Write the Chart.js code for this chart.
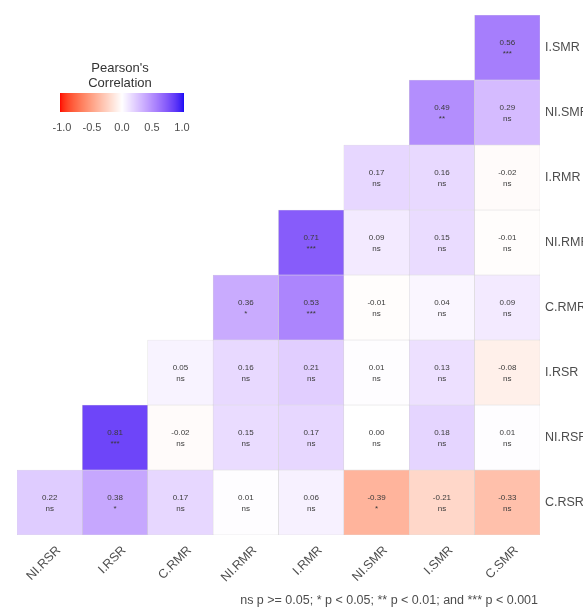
<!DOCTYPE html>
<html>
<head>
<meta charset="utf-8">
<script src="https://cdn.jsdelivr.net/npm/chart.js@4.4.0/dist/chart.umd.min.js"></script>
<style>
  html, body { margin: 0; padding: 0; background: #fff; }
  #corrChart { display: block; }
</style>
</head>
<body>
<canvas id="corrChart" width="583" height="611"></canvas>
<script>
// kolom (sumbu x) dan baris (sumbu y, dari atas ke bawah)
const xLabels = ["NI.RSR", "I.RSR", "C.RMR", "NI.RMR", "I.RMR", "NI.SMR", "I.SMR", "C.SMR"];
const yLabels = ["I.SMR", "NI.SMR", "I.RMR", "NI.RMR", "C.RMR", "I.RSR", "NI.RSR", "C.RSR"];

// nilai korelasi per baris (null = sel kosong)
const rowISMR  = [null, null, null, null, null, null, null, 0.56];
const rowNISMR = [null, null, null, null, null, null, 0.49, 0.29];
const rowIRMR  = [null, null, null, null, null, 0.17, 0.16, -0.02];
const rowNIRMR = [null, null, null, null, 0.71, 0.09, 0.15, -0.01];
const rowCRMR  = [null, null, null, 0.36, 0.53, -0.01, 0.04, 0.09];
const rowIRSR  = [null, null, 0.05, 0.16, 0.21, 0.01, 0.13, -0.08];
const rowNIRSR = [null, 0.81, -0.02, 0.15, 0.17, 0.00, 0.18, 0.01];
const rowCRSR  = [0.22, 0.38, 0.17, 0.01, 0.06, -0.39, -0.21, -0.33];
const corrRows = [rowISMR, rowNISMR, rowIRMR, rowNIRMR, rowCRMR, rowIRSR, rowNIRSR, rowCRSR];

// tanda signifikansi per baris
const sigISMR  = [null, null, null, null, null, null, null, "***"];
const sigNISMR = [null, null, null, null, null, null, "**", "ns"];
const sigIRMR  = [null, null, null, null, null, "ns", "ns", "ns"];
const sigNIRMR = [null, null, null, null, "***", "ns", "ns", "ns"];
const sigCRMR  = [null, null, null, "*", "***", "ns", "ns", "ns"];
const sigIRSR  = [null, null, "ns", "ns", "ns", "ns", "ns", "ns"];
const sigNIRSR = [null, "***", "ns", "ns", "ns", "ns", "ns", "ns"];
const sigCRSR  = ["ns", "*", "ns", "ns", "ns", "*", "ns", "ns"];
const sigRows = [sigISMR, sigNISMR, sigIRMR, sigNIRMR, sigCRMR, sigIRSR, sigNIRSR, sigCRSR];

const legendTicks = [-1, -0.5, 0, 0.5, 1];
const legendTitle = ["Pearson's", "Correlation"];
const footnote = "ns p >= 0.05; * p < 0.05; ** p < 0.01; and *** p < 0.001";

const FONT = "'Liberation Sans', Arial, sans-serif";

// ---------------- warna: gradien merah - putih - biru (ruang Lab) ----------------
function toLinear(c) {
  c /= 255;
  return c <= 0.04045 ? c / 12.92 : Math.pow((c + 0.055) / 1.055, 2.4);
}
function toSrgb(c) {
  const v = c <= 0.0031308 ? 12.92 * c : 1.055 * Math.pow(c, 1 / 2.4) - 0.055;
  return Math.round(Math.max(0, Math.min(1, v)) * 255);
}
function rgb2lab(rgb) {
  const r = toLinear(rgb[0]), g = toLinear(rgb[1]), b = toLinear(rgb[2]);
  const f = (t) => (t > 0.008856 ? Math.cbrt(t) : 7.787 * t + 16 / 116);
  const x = f((0.4124 * r + 0.3576 * g + 0.1805 * b) / 0.95047);
  const y = f(0.2126 * r + 0.7152 * g + 0.0722 * b);
  const z = f((0.0193 * r + 0.1192 * g + 0.9505 * b) / 1.08883);
  return [116 * y - 16, 500 * (x - y), 200 * (y - z)];
}
function lab2rgb(lab) {
  const fy = (lab[0] + 16) / 116, fx = lab[1] / 500 + fy, fz = fy - lab[2] / 200;
  const fi = (t) => (t * t * t > 0.008856 ? t * t * t : (t - 16 / 116) / 7.787);
  const x = fi(fx) * 0.95047, y = fi(fy), z = fi(fz) * 1.08883;
  return [
    toSrgb(3.2406 * x - 1.5372 * y - 0.4986 * z),
    toSrgb(-0.9689 * x + 1.8758 * y + 0.0415 * z),
    toSrgb(0.0557 * x - 0.204 * y + 1.057 * z),
  ];
}
const labLow = rgb2lab([255, 0, 0]);
const labMid = rgb2lab([255, 255, 255]);
const labHigh = rgb2lab([20, 10, 245]);

function colorFor(v) {
  const end = v < 0 ? labLow : labHigh;
  const t = Math.min(1, Math.abs(v));
  const lab = labMid.map((m, k) => m + (end[k] - m) * t);
  const c = lab2rgb(lab);
  return `rgb(${c[0]}, ${c[1]}, ${c[2]})`;
}

// ---------------- dataset: satu per baris, bar mengambang ----------------
const datasets = corrRows.map((row, i) => {
  const yPos = yLabels.length - 1 - i;
  return {
    label: yLabels[i],
    data: row.map((v) => (v === null ? null : [yPos - 0.5, yPos + 0.5])),
    backgroundColor: row.map((v) => (v === null ? "rgba(0,0,0,0)" : colorFor(v))),
    borderColor: "#d4d4d4",
    borderWidth: 0.5,
    borderSkipped: false,
    grouped: false,
    barPercentage: 1,
    categoryPercentage: 1,
  };
});

// teks nilai + bintang di tengah sel
const cellTextPlugin = {
  id: "cellText",
  afterDatasetsDraw(chart) {
    const ctx = chart.ctx;
    ctx.save();
    ctx.fillStyle = "#3a3a3a";
    ctx.textAlign = "center";
    ctx.textBaseline = "middle";
    ctx.font = `8px ${FONT}`;
    corrRows.forEach((row, i) => {
      const meta = chart.getDatasetMeta(i);
      row.forEach((v, j) => {
        if (v === null) return;
        const el = meta.data[j];
        const cx = el.x;
        const cy = (el.y + el.base) / 2;
        ctx.fillText(v.toFixed(2), cx, cy - 5);
        ctx.fillText(sigRows[i][j], cx, cy + 6);
      });
    });
    ctx.restore();
  },
};

// legenda warna + catatan kaki
const colorbarPlugin = {
  id: "colorbar",
  beforeDraw(chart) {
    const ctx = chart.ctx;
    ctx.save();
    ctx.fillStyle = "#ffffff";
    ctx.fillRect(0, 0, chart.width, chart.height);
    ctx.restore();
  },
  afterDraw(chart) {
    const ctx = chart.ctx;
    const barLeft = 60, barRight = 184, barTop = 93, barBottom = 112;
    const inset = 2;
    ctx.save();
    // judul
    ctx.fillStyle = "#333333";
    ctx.font = `13px ${FONT}`;
    ctx.textAlign = "center";
    ctx.textBaseline = "middle";
    ctx.fillText(legendTitle[0], 120, 68);
    ctx.fillText(legendTitle[1], 120, 83);
    // batang gradien
    for (let x = barLeft; x < barRight; x++) {
      const v = -1 + ((x + 0.5 - barLeft) / (barRight - barLeft)) * 2;
      ctx.fillStyle = colorFor(v);
      ctx.fillRect(x, barTop, 1, barBottom - barTop);
    }
    // label tick
    ctx.fillStyle = "#4d4d4d";
    ctx.font = `11px ${FONT}`;
    legendTicks.forEach((t) => {
      const x = barLeft + inset + ((t + 1) / 2) * (barRight - barLeft - 2 * inset);
      ctx.fillText(t.toFixed(1), x, 128);
    });
    // catatan kaki
    ctx.textAlign = "right";
    ctx.font = `12.5px ${FONT}`;
    ctx.fillStyle = "#4d4d4d";
    ctx.fillText(footnote, 538, 601);
    ctx.restore();
  },
};

const ctx = document.getElementById("corrChart").getContext("2d");
const corrChart = new Chart(ctx, {
  type: "bar",
  data: { labels: xLabels, datasets: datasets },
  options: {
    responsive: false,
    animation: false,
    devicePixelRatio: 1,
    layout: { padding: { left: 17, top: 15, right: 0, bottom: 0 } },
    plugins: {
      legend: { display: false },
      tooltip: { enabled: false },
      title: { display: false },
    },
    scales: {
      x: {
        grid: { display: false, drawTicks: false },
        border: { display: false },
        ticks: {
          autoSkip: false,
          minRotation: 45,
          maxRotation: 45,
          padding: 8,
          labelOffset: 9,
          color: "#4d4d4d",
          font: { family: FONT, size: 12.5 },
        },
        afterFit: (scale) => {
          scale.height = 76;
        },
      },
      y: {
        position: "right",
        min: -0.5,
        max: 7.5,
        grid: { display: false, drawTicks: false },
        border: { display: false },
        afterBuildTicks: (scale) => {
          scale.ticks = yLabels.map((_, k) => ({ value: k }));
        },
        ticks: {
          padding: 5,
          color: "#4d4d4d",
          font: { family: FONT, size: 12.5 },
          callback: (v) => yLabels[yLabels.length - 1 - v],
        },
        afterFit: (scale) => {
          scale.width = 43;
        },
      },
    },
  },
  plugins: [cellTextPlugin, colorbarPlugin],
});
</script>
</body>
</html>
